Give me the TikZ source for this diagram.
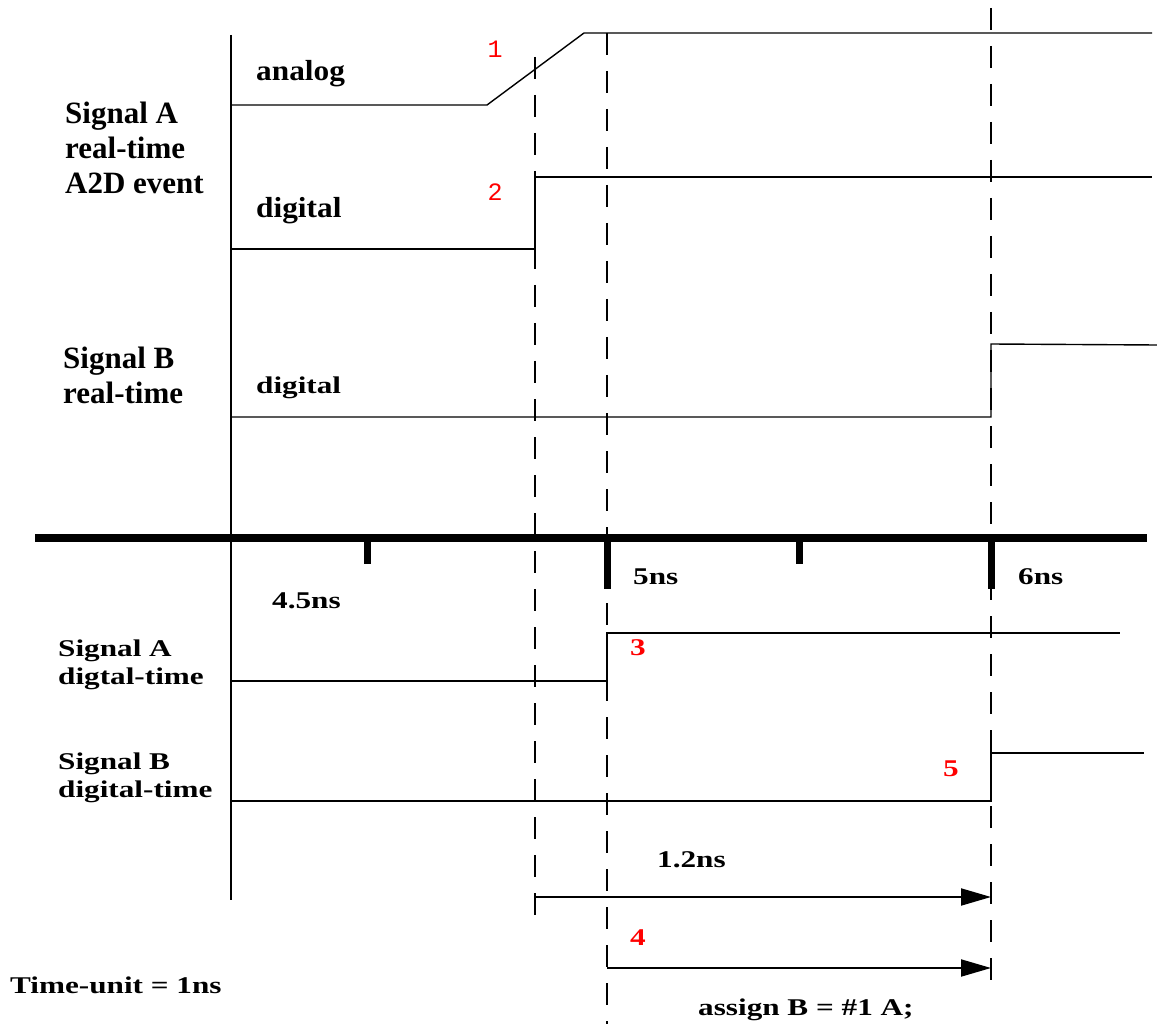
\documentclass[tikz,border=0pt]{standalone}
\usepackage{fontspec}
\usetikzlibrary{arrows.meta}
\newfontfamily\labf{Liberation Serif}
\newfontfamily\labw{Liberation Serif}[FakeStretch=1.3]
\newfontfamily\labm{Liberation Serif}[FakeStretch=1.08]
\newfontfamily\monof{Liberation Mono}
\begin{document}
\begin{tikzpicture}[x=1pt,y=-1pt,
  sig/.style={line width=1.4pt},
  guide/.style={line width=1.5pt, dash pattern=on 22pt off 16pt},
  axisline/.style={line width=8.5pt},
  tick/.style={line width=7pt},
  timearrow/.style={line width=2pt, -{Triangle[length=30pt,width=17pt]}},
  bigl/.style={font=\labf\bfseries\fontsize{31}{35}\selectfont, align=left, inner sep=0pt, anchor=base west},
  midl/.style={font=\labm\bfseries\fontsize{29}{33}\selectfont, inner sep=0pt, anchor=base west},
  smll/.style={font=\labw\bfseries\fontsize{24}{27.5}\selectfont, align=left, inner sep=0pt, anchor=base west},
  redm/.style={font=\monof\fontsize{25}{28}\selectfont, text=red, inner sep=0pt},
  redb/.style={font=\labw\bfseries\fontsize{24}{27}\selectfont, text=red, inner sep=0pt},
]
\useasboundingbox (0,0) rectangle (1157,1024);
\fill[white] (0,0) rectangle (1157,1024);

% main time origin line
\coordinate (o1) at (231,35);
\coordinate (o2) at (231,900);
\draw[line width=1.5pt] (o1) -- (o2);

% guide lines
\coordinate (g1a) at (535,57);  \coordinate (g1b) at (535,920);
\coordinate (g2a) at (607,33);  \coordinate (g2b) at (607,1024);
\coordinate (g3a) at (991,8);   \coordinate (g3b) at (991,995);
\draw[guide] (g1a) -- (g1b);
\draw[guide] (g2a) -- (g2b);
\draw[guide] (g3a) -- (g3b);

% signals
\draw[sig] (231,105) -- (487,105) -- (584,33) -- (1152,33);
\draw[sig] (231,249) -- (535,249) -- (535,177) -- (1152,177);
\draw[sig] (231,417) -- (991,417) -- (991,344) -- (1157,345);
\draw[sig] (231,681) -- (607,681) -- (607,633) -- (1120,633);
\draw[sig] (231,801) -- (991,801) -- (991,753) -- (1144,753);

% axis
\coordinate (ax1) at (35,538);
\coordinate (ax2) at (1147,538);
\draw[axisline] (ax1) -- (ax2);
\draw[tick] (367,534) -- (367,564);
\draw[tick] (799,534) -- (799,564);
\draw[tick] (607,534) -- (607,589);
\draw[tick] (991,534) -- (991,589);

% labels
\node[bigl] (sA) at (65,194) {Signal A\\real-time\\A2D event};
\node[midl] (an) at (256,81) {analog};
\node[midl] (dg) at (256,218) {digital};
\node[redm] (n1) at (495,49) {1};
\node[redm] (n2) at (495,192) {2};
\node[bigl] (sB) at (63,403) {Signal B\\real-time};
\node[smll] (dgB) at (256,393) {digital};
\node[smll] (t45) at (272,608) {4.5ns};
\node[smll] (t5) at (633,584) {5ns};
\node[smll] (t6) at (1018,584) {6ns};
\node[smll] (sAd) at (58,684) {Signal A\\digtal-time};
\node[redb] (n3) at (638,648) {3};
\node[smll] (sBd) at (58,797) {Signal B\\digital-time};
\node[redb] (n5) at (951,769) {5};
\node[smll] (d12) at (657,867) {1.2ns};
\node[redb] (n4) at (638,938) {4};
\node[smll] (tu) at (10,993) {Time-unit = 1ns};
\node[smll] (asg) at (698,1015) {assign B = \#1 A;};

% delay arrows
\coordinate (a1s) at (535,897);
\coordinate (a1e) at (991,897);
\coordinate (a2s) at (607,968);
\coordinate (a2e) at (991,968);
\draw[timearrow] (a1s) -- (a1e);
\draw[timearrow] (a2s) -- (a2e);
\end{tikzpicture}
\end{document}
